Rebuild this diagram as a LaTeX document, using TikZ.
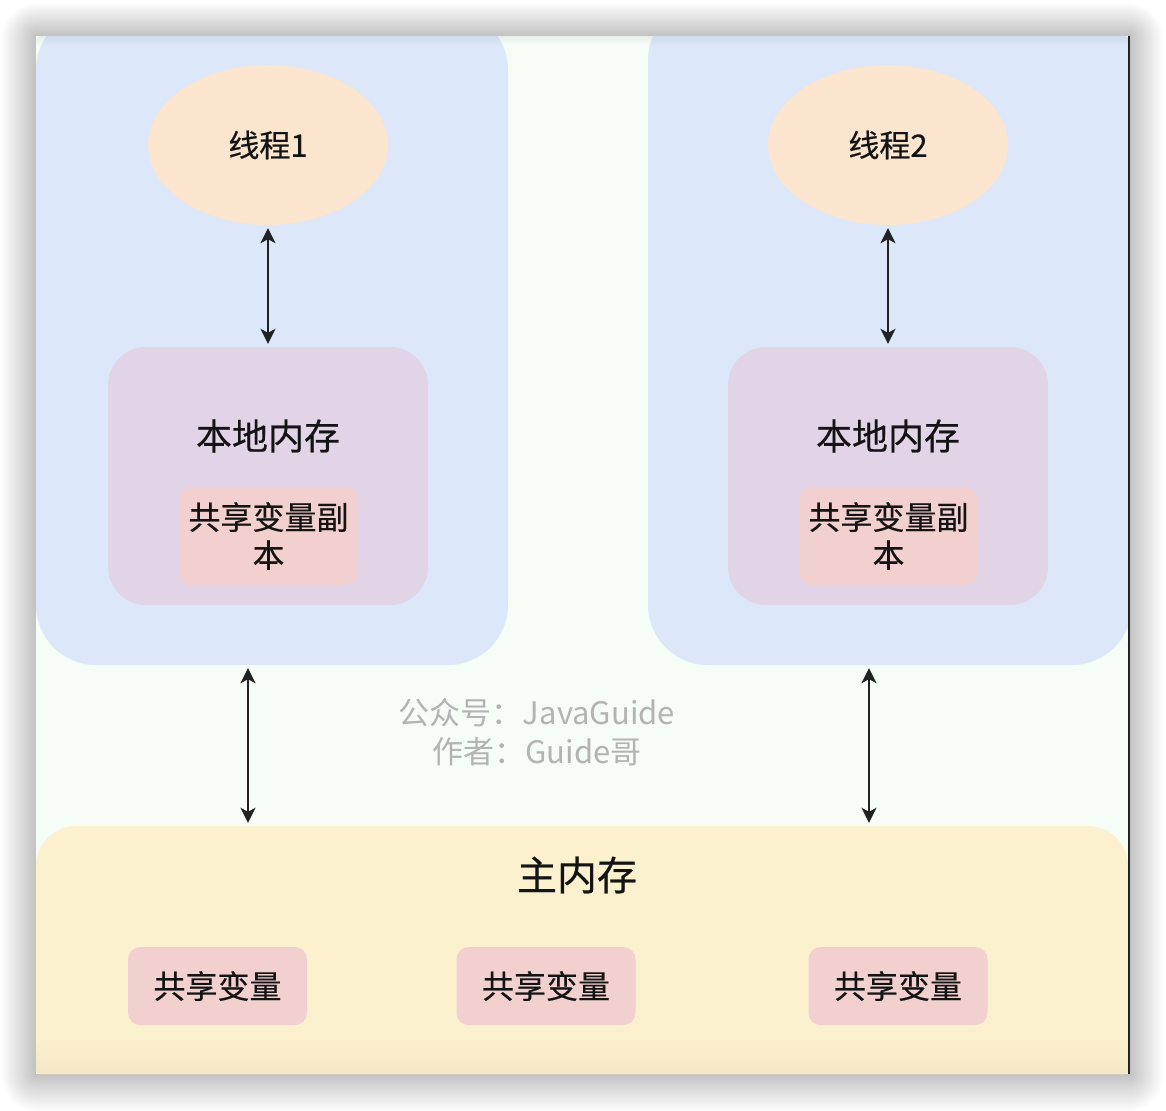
\documentclass[tikz,border=0pt]{standalone}
\usepackage{fontspec}
\newfontfamily\cjk{Noto Sans CJK SC}[FakeBold=0.4]
\newfontfamily\cjkw{Noto Sans CJK SC}
\usetikzlibrary{arrows.meta,shapes.geometric}
\definecolor{bgc}{HTML}{F6FCF6}
\definecolor{bluec}{HTML}{DCE7FA}
\definecolor{ellc}{HTML}{FBE5CE}
\definecolor{purc}{HTML}{E1D4E6}
\definecolor{pinkc}{HTML}{F2D0CF}
\definecolor{yelc}{HTML}{FCF1CF}
\definecolor{yeldk}{HTML}{F3E6C3}
\definecolor{linec}{HTML}{222222}
\definecolor{wmc}{HTML}{B3B3B3}
\tikzset{
  txt/.style={font=\cjk\fontsize{#1}{#1}\selectfont, text=black!92, inner sep=0pt, align=center},
  txt/.default=32,
  ellnode/.style={ellipse, fill=ellc, minimum width=240pt, minimum height=160pt, inner sep=0pt},
  bluebox/.style={rectangle, rounded corners=60pt, fill=bluec, minimum width=472pt, minimum height=655pt, inner sep=0pt},
  purbox/.style={rectangle, rounded corners=38pt, fill=purc, minimum width=320pt, minimum height=258pt, inner sep=0pt},
  pinkbox/.style={rectangle, rounded corners=13pt, fill=pinkc, minimum width=179pt, minimum height=98pt, inner sep=0pt},
  varbox/.style={rectangle, rounded corners=12pt, fill=pinkc, minimum width=179pt, minimum height=78pt, inner sep=0pt},
  conn/.style={draw=linec, line width=2.2pt, {Stealth[length=15pt,width=15pt,inset=4pt]}-{Stealth[length=15pt,width=15pt,inset=4pt]}, shorten <=3pt, shorten >=3pt},
  wm/.style={font=\cjkw\fontsize{31}{31}\selectfont, text=wmc, inner sep=0pt, align=center}
}
\begin{document}
\begin{tikzpicture}[x=1pt,y=-1pt]
\useasboundingbox (0,0) rectangle (1166,1110);
\fill[white] (0,0) rectangle (1166,1110);
% drop shadow
\foreach \i in {1,...,30}{
  \fill[black, opacity=0.0065, rounded corners={1.2*\i pt}] ({36-1.15*\i},{36-1.1*\i}) rectangle ({1129+1.15*\i},{1074+1.25*\i});
}
% frame background
\fill[bgc] (36,36) rectangle (1129,1074);
\begin{scope}
\clip[rounded corners=4pt] (36,36) rectangle (1129,1074);
% blue thread boxes
\node[bluebox] (blue1) at (272,337.5) {};
\node[bluebox, minimum width=484pt, minimum height=665pt] (blue2) at (890,332.5) {};
% main memory box
\fill[yelc, rounded corners=40pt] (36,826) rectangle (1128,1140);
\shade[top color=yelc, bottom color=yeldk] (36,1038) rectangle (1128,1075);
\node[inner sep=0pt, minimum width=1092pt, minimum height=249pt] (main) at (582,950.5) {};
% top edge shading
\foreach \j in {0,...,7}{
  \fill[black, opacity={0.05-0.006*\j}] (36,{36+1.2*\j}) rectangle (1129,{37.2+1.2*\j});
}
\end{scope}
\draw[linec, line width=1.6pt] (1129,36) -- (1129,1074);
% threads
\node[ellnode] (t1) at (268,145) {};
\node[txt=31] at (t1.center) {线程1};
\node[ellnode] (t2) at (888,145) {};
\node[txt=31] at (t2.center) {线程2};
% local memories
\node[purbox] (l1) at (268,476) {};
\node[txt=36] at (268,436) {本地内存};
\node[pinkbox] (c1) at (268.5,536) {};
\node[txt=32] at (c1.center) {共享变量副\\[6pt]本};
\node[purbox] (l2) at (888,476) {};
\node[txt=36] at (888,436) {本地内存};
\node[pinkbox] (c2) at (888.5,536) {};
\node[txt=32] at (c2.center) {共享变量副\\[6pt]本};
% main memory contents
\node[txt=40] at (577,875) {主内存};
\node[varbox] (v1) at (217.5,986) {};
\node[txt=32] at (v1.center) {共享变量};
\node[varbox] (v2) at (546,986) {};
\node[txt=32] at (v2.center) {共享变量};
\node[varbox] (v3) at (898,986) {};
\node[txt=32] at (v3.center) {共享变量};
% watermark
\node[wm] (wm1) at (537,713) {公众号：JavaGuide};
\node[wm] (wm2) at (537,752) {作者：Guide哥};
% connectors
\draw[conn] (t1.south) -- (l1.north);
\draw[conn] (t2.south) -- (l2.north);
\coordinate (xa) at (248,0);
\coordinate (xb) at (869,0);
\draw[conn] (blue1.south -| xa) -- (main.north -| xa);
\draw[conn] (blue2.south -| xb) -- (main.north -| xb);
\end{tikzpicture}
\end{document}
